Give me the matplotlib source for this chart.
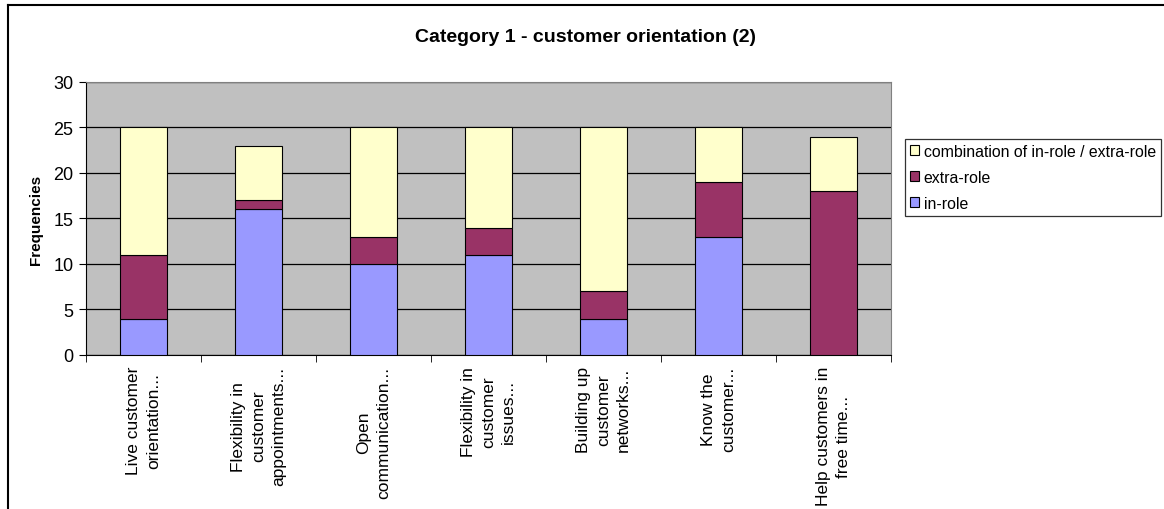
import numpy as np
import matplotlib
matplotlib.use('Agg')
import matplotlib.pyplot as plt
from matplotlib.lines import Line2D

plt.rcParams['font.family'] = ['Liberation Sans', 'DejaVu Sans']

categories = ['Live customer\norientation...',
              'Flexibility in\ncustomer\nappointments...',
              'Open\ncommunication...',
              'Flexibility in\ncustomer\nissues...',
              'Building up\ncustomer\nnetworks...',
              'Know the\ncustomer...',
              'Help customers in\nfree time...']
in_role = [4, 16, 10, 11, 4, 13, 0]
extra_role = [7, 1, 3, 3, 3, 6, 18]
combination = [14, 6, 12, 11, 18, 6, 6]

fig = plt.figure(figsize=(11.64, 5.10), dpi=100)
ax = fig.add_axes([0.0739, 0.302, 0.6916, 0.5353])
ax.set_facecolor('#C0C0C0')

x = np.arange(len(categories))
w = 0.41
b1 = ax.bar(x, in_role, w, color='#9999FF', edgecolor='black', linewidth=0.8, label='in-role', zorder=3)
b2 = ax.bar(x, extra_role, w, bottom=in_role, color='#993366', edgecolor='black', linewidth=0.8,
            label='extra-role', zorder=3)
bottom2 = np.array(in_role) + np.array(extra_role)
b3 = ax.bar(x, combination, w, bottom=bottom2, color='#FFFFCC', edgecolor='black', linewidth=0.8,
            label='combination of in-role / extra-role', zorder=3)

ax.set_xlim(-0.5, len(categories) - 0.5)
ax.set_ylim(0, 30)
ax.set_yticks(range(0, 31, 5))
ax.yaxis.grid(True, color='black', linewidth=0.9, zorder=1)
ax.set_axisbelow(True)

ax.set_xticks(x)
ax.set_xticklabels(categories, rotation=90, ha='center', va='top', multialignment='center',
                   linespacing=1.4)
ax.set_xticks(np.arange(-0.5, len(categories)), minor=True)
ax.tick_params(axis='x', which='major', length=0, pad=8, labelsize=12.5)
ax.tick_params(axis='x', which='minor', length=5, direction='out', color='black')
ax.tick_params(axis='y', length=5, direction='out', labelsize=13, pad=4)

for side in ['top', 'right']:
    ax.spines[side].set_color('#808080')
ax.spines['left'].set_color('black')
ax.spines['bottom'].set_color('black')

ax.set_ylabel('Frequencies', fontsize=11, fontweight='bold')
ax.yaxis.set_label_coords(-0.0534, 0.5)
fig.text(0.503, 0.927, 'Category 1 - customer orientation (2)', ha='center', va='center',
         fontsize=14, fontweight='bold')

leg = fig.legend(handles=[b3, b2, b1], loc='upper left', bbox_to_anchor=(0.7775, 0.7255),
                 frameon=True, fancybox=False, edgecolor='black', fontsize=11.4,
                 handlelength=0.57, handleheight=0.57, handletextpad=0.32,
                 labelspacing=0.7, borderpad=0.3, borderaxespad=0)
leg.get_frame().set_linewidth(0.9)

# outer chart frame (left and top edges)
fig.add_artist(Line2D([8 / 1164, 8 / 1164], [0, 1 - 6 / 510], color='black', linewidth=1.5))
fig.add_artist(Line2D([8 / 1164, 1], [1 - 6 / 510, 1 - 6 / 510], color='black', linewidth=1.5))

fig.savefig('out.png', dpi=100)
